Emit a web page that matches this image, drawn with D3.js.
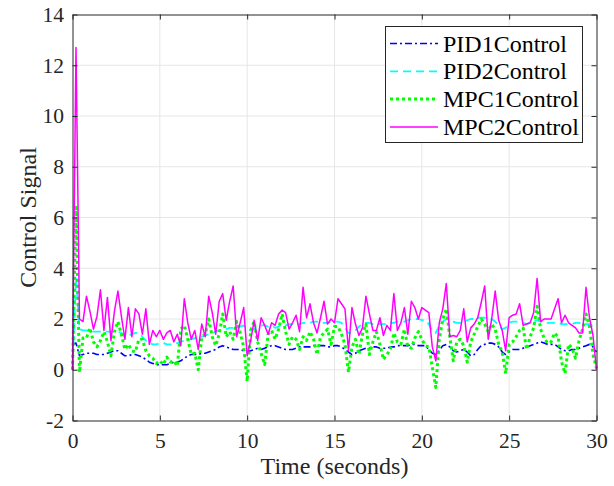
<!DOCTYPE html>
<html>
<head>
<meta charset="utf-8">
<script src="https://cdn.jsdelivr.net/npm/d3@7"></script>
<style>
	body { margin: 0; background: #fff; }
	svg { display: block; font-family: 'Liberation Serif', 'Times New Roman', serif; }
</style>
</head>
<body>
<svg width="614" height="486"></svg>
<script>
// sampling step of the recorded signals (seconds)
const step = 0.2;

const seriesNames = ['PID1Control', 'PID2Control', 'MPC1Control', 'MPC2Control'];

const pid1 = [
	1.0, 1.05, 0.55, 0.6, 0.65, 0.65, 0.65, 0.6, 0.6, 0.6,
	0.65, 0.7, 0.75, 0.75, 0.65, 0.55, 0.55, 0.6, 0.6, 0.55,
	0.5, 0.4, 0.3, 0.25, 0.2, 0.2, 0.2, 0.2, 0.25, 0.3,
	0.3, 0.35, 0.45, 0.55, 0.6, 0.6, 0.6, 0.65, 0.65, 0.7,
	0.75, 0.8, 0.9, 0.95, 0.9, 0.85, 0.8, 0.8, 0.8, 0.75,
	0.7, 0.75, 0.8, 0.85, 0.8, 0.85, 0.9, 0.95, 0.95, 0.9,
	0.85, 0.8, 0.8, 0.8, 0.85, 0.9, 0.9, 0.9, 0.9, 0.95,
	0.95, 0.95, 0.95, 0.9, 0.9, 0.95, 0.95, 0.9, 0.8, 0.7,
	0.6, 0.65, 0.75, 0.8, 0.85, 0.85, 0.9, 0.9, 0.85, 0.85,
	0.85, 0.9, 0.9, 0.95, 0.95, 0.95, 0.95, 1.0, 1.0, 0.95,
	0.95, 0.95, 0.8, 0.65, 0.6, 0.75, 0.95, 1.0, 0.9, 0.75,
	0.7, 0.75, 0.8, 0.7, 0.55, 0.6, 0.8, 0.95, 1.0, 1.05,
	1.05, 1.0, 0.9, 0.7, 0.6, 0.7, 0.8, 0.8, 0.8, 0.85,
	0.9, 0.95, 1.0, 1.05, 1.1, 1.05, 1.0, 1.0, 1.0, 0.9,
	0.8, 0.75, 0.75, 0.8, 0.8, 0.85, 0.9, 0.95, 1.0, 0.9,
	0.7
];

const pid2 = [
	0, 3.6, 1.6, 1.55, 1.55, 1.5, 1.5, 1.5, 1.5, 1.5,
	1.5, 1.5, 1.5, 1.5, 1.45, 1.3, 1.35, 1.4, 1.45, 1.45,
	1.3, 1.15, 1.05, 1.0, 1.0, 1.05, 1.05, 1.0, 1.0, 1.0,
	1.05, 1.1, 1.15, 1.2, 1.2, 1.25, 1.3, 1.3, 1.35, 1.4,
	1.45, 1.5, 1.55, 1.6, 1.6, 1.65, 1.65, 1.7, 1.7, 1.75,
	1.6, 1.55, 1.6, 1.7, 1.75, 1.75, 1.7, 1.75, 1.65, 1.7,
	1.75, 1.75, 1.8, 1.8, 1.75, 1.8, 1.85, 1.85, 1.85, 1.9,
	1.9, 1.85, 1.85, 1.85, 1.9, 1.9, 1.9, 1.85, 1.65, 1.45,
	1.45, 1.55, 1.7, 1.8, 1.85, 1.85, 1.8, 1.85, 1.8, 1.8,
	1.8, 1.85, 1.85, 1.9, 1.9, 1.9, 1.95, 2.0, 2.0, 2.0,
	1.95, 1.95, 1.8, 1.5, 1.45, 1.75, 1.9, 2.0, 1.95, 1.9,
	1.85, 1.85, 1.9, 1.95, 2.0, 2.0, 2.05, 2.05, 2.05, 2.0,
	2.0, 1.9, 1.75, 1.6, 1.65, 1.85, 1.9, 1.9, 1.85, 1.85,
	1.8, 1.85, 1.9, 1.95, 1.9, 1.9, 1.85, 1.85, 1.85, 1.85,
	1.8, 1.8, 1.8, 1.8, 1.85, 1.85, 1.8, 1.8, 1.8, 1.7,
	1.6
];

const mpc1 = [
	0, 6.4, -0.1, 1.25, 1.25, 1.65, 1.1, 0.9, 1.15, 1.5,
	1.1, 0.55, 1.5, 1.9, 1.4, 0.8, 1.0, 0.75, 0.7, 1.2,
	1.2, 0.75, 0.55, 0.45, 0.25, 0.35, 0.2, 0.5, 0.3, 0.35,
	0.15, 1.6, 1.75, 1.2, 0.6, 0.65, 0.0, 1.3, 1.4, 2.0,
	1.3, 0.95, 1.4, 2.2, 1.3, 1.5, 1.2, 1.9, 1.45, 0.9,
	-0.45, 1.55, 1.9, 1.1, 0.65, 0.2, 1.4, 1.55, 1.2, 1.6,
	2.2, 1.5, 1.0, 1.3, 1.2, 0.8, 1.3, 1.15, 1.5, 1.2,
	0.6, 1.3, 1.45, 1.6, 1.0, 1.7, 1.7, 1.4, 1.0, -0.1,
	0.9, 1.2, 0.6, 1.4, 1.8, 0.6, 1.1, 1.5, 1.0, 0.4,
	0.6, 0.8, 1.45, 1.1, 1.0, 1.6, 0.9, 0.85, 1.25, 1.5,
	1.2, 0.95, 0.9, 0.1, -0.7, 1.2, 2.0, 2.4, 1.3, 0.35,
	1.1, 1.2, 0.95, 0.3, 1.1, 1.4, 1.7, 2.0, 1.8, 1.5,
	1.8, 1.6, 1.0, 0.7, -0.15, 1.0, 1.1, 1.3, 1.55, 1.65,
	0.8, 1.3, 1.65, 2.5, 1.6, 1.25, 1.05, 1.1, 1.45, 1.3,
	0.3, -0.15, 1.0, 0.85, 0.45, 1.15, 1.6, 2.2, 1.7, 0.6,
	0.05
];

const mpc2 = [
	0, 12.7, 2.0, 1.9, 2.9, 2.3, 1.6, 2.1, 3.15, 1.55,
	2.85, 1.15, 2.3, 3.1, 2.1, 1.2, 2.45, 1.3, 2.4, 2.2,
	1.4, 2.4, 1.0, 1.55, 1.3, 1.55, 1.2, 1.45, 1.55, 1.1,
	1.4, 0.95, 2.8, 1.85, 1.2, 1.55, 0.8, 1.8, 1.3, 2.9,
	2.25, 1.4, 2.7, 3.0, 1.95, 2.7, 3.3, 1.3, 1.85, 2.45,
	0.55, 1.15, 1.95, 1.15, 2.05, 1.75, 1.4, 1.85, 1.75, 2.2,
	2.35, 2.25, 1.6, 1.85, 2.15, 1.5, 3.25, 2.05, 2.6, 1.85,
	1.45, 2.05, 2.7, 1.8, 2.0, 1.85, 2.8, 2.6, 2.4, 0.75,
	2.45, 1.8, 1.35, 1.65, 2.9, 2.2, 1.55, 1.55, 2.05, 1.35,
	1.75, 1.55, 3.0, 1.55, 1.85, 2.45, 1.4, 2.7, 2.45, 2.0,
	2.45, 2.35, 2.25, 0.9, 0.35, 1.85, 2.4, 3.4, 1.3, 1.35,
	1.3, 1.55, 2.4, 1.1, 1.65, 1.8, 2.05, 2.65, 3.3, 1.2,
	2.0, 3.1, 1.95, 1.55, 0.75, 2.05, 2.15, 2.2, 2.6, 1.75,
	1.8, 1.85, 2.25, 3.6, 1.9, 2.0, 2.0, 2.0, 2.4, 2.8,
	1.85, 2.15, 1.85, 1.75, 1.65, 1.45, 1.45, 3.25, 2.05, 1.35,
	0.0
];

const xTicks = [0, 5, 10, 15, 20, 25, 30];
const yTicks = [-2, 0, 2, 4, 6, 8, 10, 12, 14];

const time = pid1.map((v, i) => i * step);

const svg = d3.select('svg'),
	plotLeft = 72.5, plotRight = 596.5, plotTop = 14.5, plotBottom = 420.5,
	axisColor = '#262626';

const x = d3.scaleLinear().domain([0, 30]).range([plotLeft, plotRight]);
const y = d3.scaleLinear().domain([-2, 14]).range([plotBottom, plotTop]);

svg.append('rect').attr('width', 614).attr('height', 486).attr('fill', '#fff');

// grid
let grid = svg.append('g').attr('class', 'grid').attr('stroke', '#e6e6e6').attr('stroke-width', 1);
grid.selectAll('.gx').data(xTicks.slice(1, -1)).enter().append('line')
	.attr('x1', d => x(d)).attr('x2', d => x(d)).attr('y1', plotTop).attr('y2', plotBottom);
grid.selectAll('.gy').data(yTicks.slice(1, -1)).enter().append('line')
	.attr('y1', d => y(d)).attr('y2', d => y(d)).attr('x1', plotLeft).attr('x2', plotRight);

// data lines
const styles = [
	{data: pid1, color: '#0000ff', dash: '7,3,2,3', width: 1.6},
	{data: pid2, color: '#00ffff', dash: '8,5', width: 1.8},
	{data: mpc1, color: '#00ff00', dash: '3,3', width: 3},
	{data: mpc2, color: '#ff00ff', dash: null, width: 1.5}
];

const line = d3.line().x((d, i) => x(time[i])).y(d => y(d));

svg.append('g').attr('class', 'series')
	.selectAll('path')
	.data(styles)
	.enter().append('path')
	.attr('fill', 'none')
	.attr('stroke', d => d.color)
	.attr('stroke-width', d => d.width)
	.attr('stroke-dasharray', d => d.dash)
	.attr('stroke-linejoin', 'round')
	.attr('d', d => line(d.data));

// axes, ticks pointing inward on all four sides
function styleAxis(g) {
	g.select('.domain').attr('stroke', axisColor);
	g.selectAll('.tick line').attr('stroke', axisColor);
	g.selectAll('.tick text').attr('fill', axisColor).attr('font-size', '21.5px')
		.attr('font-family', "'Liberation Serif', serif");
}

const plain = d => String(d);

svg.append('g').attr('transform', `translate(0,${plotBottom})`)
	.call(d3.axisBottom(x).tickValues(xTicks).tickFormat(plain).tickSizeInner(-5).tickSizeOuter(0).tickPadding(12))
	.call(styleAxis);
svg.append('g').attr('transform', `translate(0,${plotTop})`)
	.call(d3.axisTop(x).tickValues(xTicks).tickSizeInner(-5).tickSizeOuter(0).tickFormat(''))
	.call(styleAxis);
svg.append('g').attr('transform', `translate(${plotLeft},0)`)
	.call(d3.axisLeft(y).tickValues(yTicks).tickFormat(plain).tickSizeInner(-5).tickSizeOuter(0).tickPadding(8.5))
	.call(styleAxis);
svg.append('g').attr('transform', `translate(${plotRight},0)`)
	.call(d3.axisRight(y).tickValues(yTicks).tickSizeInner(-5).tickSizeOuter(0).tickFormat(''))
	.call(styleAxis);

// axis labels
svg.append('text')
	.attr('x', (plotLeft + plotRight) / 2).attr('y', 474)
	.attr('text-anchor', 'middle').attr('font-size', '24px').attr('fill', axisColor)
	.text('Time (seconds)');
svg.append('text')
	.attr('transform', `translate(36,${(plotTop + plotBottom) / 2}) rotate(-90)`)
	.attr('text-anchor', 'middle').attr('font-size', '24px').attr('fill', axisColor)
	.text('Control Signal');

// legend
let legend = svg.append('g').attr('class', 'legend');
legend.append('rect')
	.attr('x', 385.5).attr('y', 26.5).attr('width', 197).attr('height', 116)
	.attr('fill', '#fff').attr('stroke', axisColor).attr('stroke-width', 1);

let rows = legend.selectAll('.row')
	.data(styles)
	.enter().append('g')
	.attr('transform', (d, i) => `translate(0,${43.5 + i * 27.8})`);

rows.append('line')
	.attr('x1', 390).attr('x2', 438)
	.attr('stroke', d => d.color)
	.attr('stroke-width', d => d.width)
	.attr('stroke-dasharray', d => d.dash);

rows.append('text')
	.attr('x', 443).attr('y', 8)
	.attr('font-size', '24px').attr('fill', '#000')
	.text((d, i) => seriesNames[i]);
</script>
</body>
</html>
